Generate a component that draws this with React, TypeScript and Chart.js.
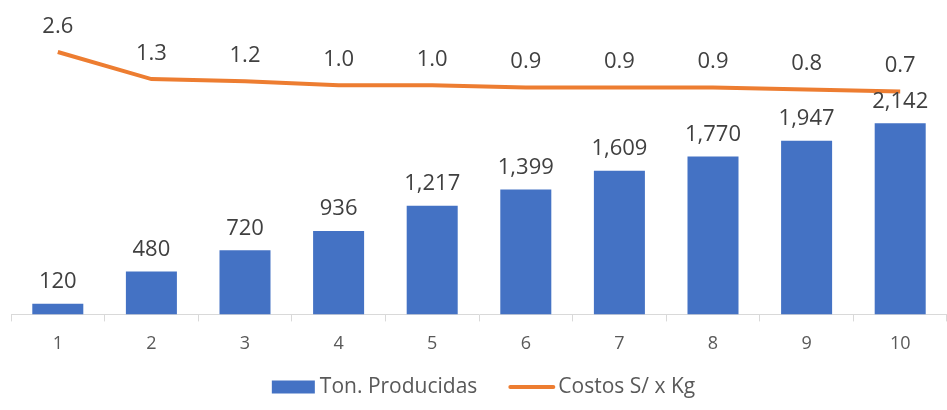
import React, { useEffect, useRef } from "react";
import { Chart, registerables } from "chart.js";

Chart.register(...registerables);

const categories = ["1", "2", "3", "4", "5", "6", "7", "8", "9", "10"];
const tonProducidas = [120, 480, 720, 936, 1217, 1399, 1609, 1770, 1947, 2142];
const costosPorKg = [2.6, 1.3, 1.2, 1.0, 1.0, 0.9, 0.9, 0.9, 0.8, 0.7];
const seriesNames = ["Ton. Producidas", "Costos S/ x Kg"];

const FONT = "'Open Sans', 'DejaVu Sans', sans-serif";
const BLUE = "#4472C4";
const ORANGE = "#ED7D31";

const labelPlugin = {
  id: "valueLabels",
  afterDatasetsDraw(chart: any) {
    const ctx = chart.ctx;
    ctx.save();
    ctx.fillStyle = "#404040";
    ctx.textAlign = "center";
    ctx.textBaseline = "alphabetic";
    ctx.font = `22px ${FONT}`;
    chart.data.datasets.forEach((ds: any, di: number) => {
      const meta = chart.getDatasetMeta(di);
      meta.data.forEach((el: any, i: number) => {
        const v = ds.data[i];
        if (ds.type === "bar") {
          ctx.fillText(v.toLocaleString("en-US"), el.x, el.y - 15.5);
        } else {
          ctx.fillText(v.toFixed(1), el.x, el.y - 19.5);
        }
      });
    });
    ctx.restore();
  },
};

const legendPlugin = {
  id: "customLegend",
  afterDraw(chart: any) {
    const ctx = chart.ctx;
    ctx.save();
    ctx.font = `21px ${FONT}`;
    const w1 = ctx.measureText(seriesNames[0]).width;
    const w2 = ctx.measureText(seriesNames[1]).width;
    const total = 43 + 5 + w1 + 31 + 47 + 3 + w2;
    let x = (chart.width - total) / 2 + 10;
    const cy = chart.height - 23;
    ctx.fillStyle = BLUE;
    ctx.fillRect(x, cy - 6.5, 43, 13);
    x += 43 + 5;
    ctx.fillStyle = "#595959";
    ctx.textBaseline = "middle";
    ctx.textAlign = "left";
    ctx.fillText(seriesNames[0], x, cy);
    x += w1 + 31;
    ctx.strokeStyle = ORANGE;
    ctx.lineWidth = 4;
    ctx.lineCap = "round";
    ctx.beginPath();
    ctx.moveTo(x + 2, cy);
    ctx.lineTo(x + 45, cy);
    ctx.stroke();
    x += 47 + 3;
    ctx.fillText(seriesNames[1], x, cy);
    ctx.restore();
  },
};

export default function App() {
  const ref = useRef<HTMLCanvasElement | null>(null);
  useEffect(() => {
    document.body.style.margin = "0";
    const chart = new Chart(ref.current as HTMLCanvasElement, {
      type: "bar",
      data: {
        labels: categories,
        datasets: [
          {
            type: "bar",
            label: seriesNames[0],
            data: tonProducidas,
            backgroundColor: BLUE,
            borderWidth: 0,
            categoryPercentage: 1,
            barPercentage: 0.545,
            yAxisID: "y",
            order: 1,
          } as any,
          {
            type: "line",
            label: seriesNames[1],
            data: costosPorKg,
            borderColor: ORANGE,
            backgroundColor: ORANGE,
            borderWidth: 4,
            pointRadius: 0,
            tension: 0,
            yAxisID: "y2",
            order: 0,
          } as any,
        ],
      },
      options: {
        animation: false,
        responsive: true,
        maintainAspectRatio: false,
        layout: { padding: { top: 11, left: 11, right: 0, bottom: 43 } },
        scales: {
          x: {
            offset: true,
            grid: {
              offset: true,
              drawOnChartArea: false,
              drawTicks: true,
              tickLength: 7,
              color: "#D9D9D9",
              lineWidth: 1,
            },
            border: { display: true, color: "#D9D9D9", width: 1 },
            ticks: {
              color: "#595959",
              font: { family: FONT, size: 18 },
              padding: 12,
            },
          },
          y: {
            display: false,
            min: 0,
            max: 3400,
          },
          y2: {
            display: false,
            position: "right",
            min: -10,
            max: 4.57,
          },
        },
        plugins: {
          legend: { display: false },
          tooltip: { enabled: false },
        },
      },
      plugins: [labelPlugin, legendPlugin],
    });
    return () => chart.destroy();
  }, []);
  return (
    <div style={{ width: 947, height: 410, position: "relative" }}>
      <canvas ref={ref} />
    </div>
  );
}
